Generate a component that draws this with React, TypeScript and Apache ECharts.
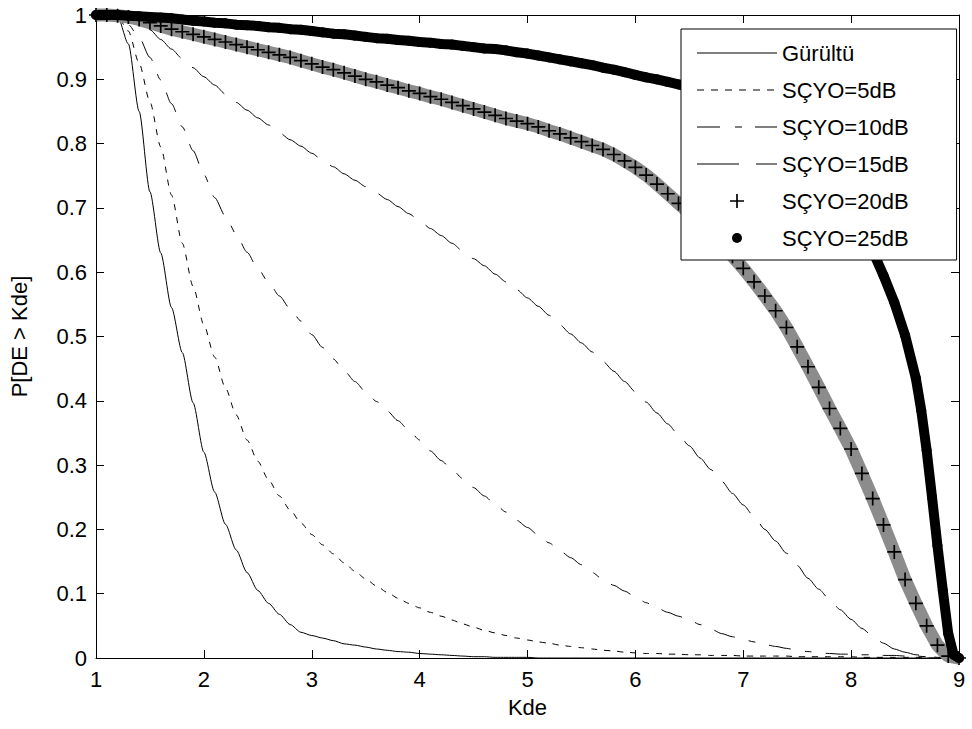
import React, { useEffect, useRef } from "react";
import * as echarts from "echarts";

// Kde grid (x values)
const kde = [
  1.0, 1.1, 1.2, 1.3, 1.4, 1.5, 1.6, 1.7, 1.8, 1.9,
  2.0, 2.1, 2.2, 2.3, 2.4, 2.5, 2.6, 2.7, 2.8, 2.9,
  3.0, 3.1, 3.2, 3.3, 3.4, 3.5, 3.6, 3.7, 3.8, 3.9,
  4.0, 4.1, 4.2, 4.3, 4.4, 4.5, 4.6, 4.7, 4.8, 4.9,
  5.0, 5.1, 5.2, 5.3, 5.4, 5.5, 5.6, 5.7, 5.8, 5.9,
  6.0, 6.1, 6.2, 6.3, 6.4, 6.5, 6.6, 6.7, 6.8, 6.9,
  7.0, 7.1, 7.2, 7.3, 7.4, 7.5, 7.6, 7.7, 7.8, 7.9,
  8.0, 8.1, 8.2, 8.3, 8.4, 8.5, 8.6, 8.7, 8.8, 8.9,
  9.0,
];

// finer grid used for the 25 dB curve (steep end near Kde = 9)
const kde25 = [
  1.0, 1.1, 1.2, 1.3, 1.4, 1.5, 1.6, 1.7, 1.8, 1.9,
  2.0, 2.1, 2.2, 2.3, 2.4, 2.5, 2.6, 2.7, 2.8, 2.9,
  3.0, 3.1, 3.2, 3.3, 3.4, 3.5, 3.6, 3.7, 3.8, 3.9,
  4.0, 4.1, 4.2, 4.3, 4.4, 4.5, 4.6, 4.7, 4.8, 4.9,
  5.0, 5.1, 5.2, 5.3, 5.4, 5.5, 5.6, 5.7, 5.8, 5.9,
  6.0, 6.1, 6.2, 6.3, 6.4, 6.5, 6.6, 6.7, 6.8, 6.9,
  7.0, 7.1, 7.2, 7.3, 7.4, 7.5, 7.6, 7.7, 7.8, 7.9,
  8.0, 8.1, 8.2, 8.3, 8.4, 8.5, 8.6, 8.65, 8.7, 8.75,
  8.8, 8.85, 8.9, 8.95, 9.0,
];

const seriesNames = ["Gürültü", "SÇYO=5dB", "SÇYO=10dB", "SÇYO=15dB", "SÇYO=20dB", "SÇYO=25dB"];

const noise = [
  1, 1, 0.998, 0.955, 0.85, 0.725, 0.63, 0.545, 0.475, 0.397,
  0.32, 0.258, 0.208, 0.168, 0.133, 0.105, 0.085, 0.068, 0.052, 0.04,
  0.035, 0.031, 0.027, 0.022, 0.02, 0.017, 0.014, 0.012, 0.01, 0.009,
  0.007, 0.006, 0.005, 0.004, 0.003, 0.002, 0.002, 0.001, 0.001, 0.001,
  0.001, 0, 0, 0, 0, 0, 0, 0, 0, 0,
  0, 0, 0, 0, 0, 0, 0, 0, 0, 0,
  0, 0, 0, 0, 0, 0, 0, 0, 0, 0,
  0, 0, 0, 0, 0, 0, 0, 0, 0, 0,
  0,
];

const snr5 = [
  1, 1, 0.998, 0.975, 0.925, 0.865, 0.795, 0.72, 0.645, 0.578,
  0.518, 0.468, 0.42, 0.378, 0.339, 0.306, 0.277, 0.252, 0.23, 0.21,
  0.192, 0.176, 0.162, 0.148, 0.135, 0.123, 0.112, 0.102, 0.093, 0.085,
  0.078, 0.071, 0.065, 0.059, 0.053, 0.048, 0.043, 0.039, 0.035, 0.031,
  0.028, 0.025, 0.023, 0.02, 0.018, 0.016, 0.014, 0.012, 0.011, 0.009,
  0.008, 0.007, 0.007, 0.006, 0.006, 0.005, 0.005, 0.004, 0.004, 0.004,
  0.003, 0.003, 0.003, 0.003, 0.003, 0.002, 0.002, 0.002, 0.002, 0.002,
  0.002, 0.001, 0.001, 0.001, 0.001, 0.001, 0.001, 0, 0, 0,
  0,
];

const snr10 = [
  1, 1, 0.995, 0.985, 0.965, 0.934, 0.899, 0.862, 0.826, 0.789,
  0.752, 0.716, 0.687, 0.659, 0.631, 0.606, 0.584, 0.563, 0.543, 0.524,
  0.503, 0.483, 0.465, 0.447, 0.43, 0.414, 0.399, 0.384, 0.369, 0.354,
  0.339, 0.322, 0.307, 0.293, 0.279, 0.265, 0.252, 0.239, 0.227, 0.214,
  0.203, 0.191, 0.179, 0.167, 0.156, 0.145, 0.133, 0.122, 0.113, 0.104,
  0.095, 0.086, 0.078, 0.071, 0.065, 0.059, 0.052, 0.045, 0.038, 0.033,
  0.029, 0.025, 0.021, 0.018, 0.015, 0.012, 0.01, 0.008, 0.007, 0.006,
  0.006, 0.005, 0.005, 0.004, 0.004, 0.003, 0.003, 0.002, 0.001, 0,
  0,
];

const snr15 = [
  1, 1, 0.998, 0.993, 0.986, 0.977, 0.962, 0.947, 0.932, 0.918,
  0.904, 0.891, 0.877, 0.864, 0.852, 0.84, 0.829, 0.817, 0.806, 0.796,
  0.785, 0.774, 0.764, 0.753, 0.743, 0.733, 0.723, 0.713, 0.702, 0.691,
  0.68, 0.668, 0.657, 0.645, 0.633, 0.621, 0.61, 0.597, 0.585, 0.573,
  0.56, 0.547, 0.533, 0.518, 0.504, 0.49, 0.476, 0.461, 0.446, 0.43,
  0.414, 0.398, 0.381, 0.364, 0.347, 0.33, 0.311, 0.293, 0.275, 0.256,
  0.238, 0.22, 0.2, 0.182, 0.163, 0.144, 0.124, 0.107, 0.091, 0.075,
  0.06, 0.046, 0.034, 0.023, 0.014, 0.009, 0.005, 0.003, 0.001, 0,
  0,
];

const snr20 = [
  1, 1, 0.999, 0.997, 0.993, 0.988, 0.983, 0.978, 0.974, 0.97,
  0.966, 0.962, 0.958, 0.954, 0.95, 0.946, 0.942, 0.938, 0.934, 0.929,
  0.924, 0.919, 0.915, 0.91, 0.905, 0.9, 0.896, 0.891, 0.887, 0.882,
  0.878, 0.873, 0.869, 0.864, 0.859, 0.854, 0.849, 0.844, 0.839, 0.835,
  0.831, 0.826, 0.82, 0.815, 0.809, 0.803, 0.797, 0.791, 0.783, 0.773,
  0.763, 0.751, 0.737, 0.722, 0.707, 0.692, 0.677, 0.66, 0.643, 0.625,
  0.606, 0.585, 0.563, 0.54, 0.514, 0.484, 0.453, 0.421, 0.388, 0.357,
  0.325, 0.287, 0.248, 0.207, 0.165, 0.122, 0.085, 0.05, 0.02, 0.003,
  0,
];

const snr25 = [
  1, 1, 1, 0.999, 0.998, 0.997, 0.996, 0.995, 0.993, 0.991,
  0.99, 0.988, 0.987, 0.985, 0.984, 0.983, 0.981, 0.98, 0.978, 0.977,
  0.975, 0.973, 0.971, 0.97, 0.968, 0.966, 0.964, 0.963, 0.961, 0.96,
  0.958, 0.957, 0.955, 0.954, 0.952, 0.95, 0.948, 0.947, 0.945, 0.942,
  0.94, 0.937, 0.934, 0.931, 0.928, 0.925, 0.922, 0.918, 0.915, 0.911,
  0.907, 0.903, 0.9, 0.896, 0.892, 0.888, 0.882, 0.875, 0.867, 0.858,
  0.848, 0.838, 0.827, 0.815, 0.802, 0.788, 0.773, 0.756, 0.737, 0.716,
  0.693, 0.666, 0.633, 0.595, 0.553, 0.502, 0.435, 0.385, 0.323, 0.25,
  0.175, 0.105, 0.038, 0.005, 0,
];

const yTicks = [0, 0.1, 0.2, 0.3, 0.4, 0.5, 0.6, 0.7, 0.8, 0.9, 1];

const FONT = "'Liberation Sans', Arial, Helvetica, sans-serif";
const PLUS = "path://M4.4,0H5.6V4.4H10V5.6H5.6V10H4.4V5.6H0V4.4H4.4Z";
const DOT_ICON = "path://M0,0L0,0M14,14L14,14M12,7A5,5,0,1,1,2,7A5,5,0,1,1,12,7Z";

const zip = (xs: number[], ys: number[]) => xs.map((x, i) => [x, ys[i]]);

export default function App() {
  const ref = useRef<HTMLDivElement>(null);

  useEffect(() => {
    if (!ref.current) return;
    const chart = echarts.init(ref.current, null, { renderer: "svg" });

    const axisCommon = {
      axisLine: { show: true, onZero: false, lineStyle: { color: "#000", width: 1 } },
      axisTick: { show: true, inside: true, length: 8, lineStyle: { color: "#000", width: 1 } },
      splitLine: { show: false },
    };

    const thin = (name: string, ys: number[], dash: any) => ({
      name,
      type: "line",
      data: zip(kde, ys),
      symbol: "none",
      smooth: 0.25,
      smoothMonotone: "x",
      color: "#000",
      lineStyle: { color: "#000", width: 1, type: dash },
      z: 2,
    });

    chart.setOption({
      animation: false,
      backgroundColor: "#fff",
      textStyle: { fontFamily: FONT },
      grid: { left: 95, right: 13, top: 15, bottom: 71, containLabel: false },
      xAxis: [
        {
          type: "value",
          min: 1,
          max: 9,
          interval: 1,
          position: "bottom",
          ...axisCommon,
          axisLabel: { color: "#000", fontSize: 22, margin: 10, fontFamily: FONT },
          name: "Kde",
          nameLocation: "middle",
          nameGap: 38,
          nameTextStyle: { color: "#000", fontSize: 22, fontFamily: FONT },
        },
        {
          type: "value",
          min: 1,
          max: 9,
          interval: 1,
          position: "top",
          ...axisCommon,
          axisLabel: { show: false },
        },
      ],
      yAxis: [
        {
          type: "value",
          min: yTicks[0],
          max: yTicks[yTicks.length - 1],
          interval: 0.1,
          position: "left",
          ...axisCommon,
          axisLabel: {
            color: "#000",
            fontSize: 22,
            margin: 9,
            fontFamily: FONT,
            formatter: (v: number) => String(Math.round(v * 10) / 10),
          },
          name: "P[DE > Kde]",
          nameLocation: "middle",
          nameGap: 66,
          nameTextStyle: { color: "#000", fontSize: 22, fontFamily: FONT },
        },
        {
          type: "value",
          min: yTicks[0],
          max: yTicks[yTicks.length - 1],
          interval: 0.1,
          position: "right",
          ...axisCommon,
          axisLabel: { show: false },
        },
      ],
      legend: {
        orient: "vertical",
        left: 681,
        top: 29,
        z: 20,
        zlevel: 0,
        padding: [12, 48, 10, 16],
        itemWidth: 80,
        itemHeight: 14,
        itemGap: 13,
        backgroundColor: "#fff",
        borderColor: "#000",
        borderWidth: 1,
        borderRadius: 0,
        selectedMode: false,
        itemStyle: { color: "#000", borderWidth: 0, borderColor: "transparent" },
        textStyle: { color: "#000", fontSize: 22, lineHeight: 24, fontFamily: FONT },
        data: [
          { name: seriesNames[0], icon: "path://M0,0H80V1H0Z" },
          {
            name: seriesNames[1],
            icon: "path://M0,0H7V1H0Z M14,0H21V1H14Z M28,0H35V1H28Z M42,0H49V1H42Z M56,0H63V1H56Z M70,0H77V1H70Z M80,0L80,0",
          },
          { name: seriesNames[2], icon: "path://M0,0H23V1H0Z M38,0H45V1H38Z M58,0H80V1H58Z" },
          { name: seriesNames[3], icon: "path://M0,0H42V1H0Z M59,0H80V1H59Z" },
          { name: seriesNames[4], icon: PLUS },
          { name: seriesNames[5], icon: DOT_ICON },
        ],
      },
      series: [
        thin(seriesNames[0], noise, "solid"),
        thin(seriesNames[1], snr5, [6, 7]),
        thin(seriesNames[2], snr10, [22, 14, 7, 14]),
        thin(seriesNames[3], snr15, [42, 15]),
        {
          name: seriesNames[4],
          type: "line",
          data: zip(kde, snr20),
          symbol: PLUS,
          symbolSize: 14,
          showSymbol: true,
          showAllSymbol: true,
          clip: false,
          color: "#000",
          itemStyle: { color: "#000" },
          lineStyle: { color: "#8c8c8c", width: 13 },
          z: 3,
        },
        {
          name: seriesNames[5],
          type: "line",
          data: zip(kde25, snr25),
          symbol: "circle",
          symbolSize: 10,
          showSymbol: true,
          showAllSymbol: true,
          clip: false,
          color: "#000",
          itemStyle: { color: "#000" },
          lineStyle: { color: "#000", width: 10, cap: "round", join: "round" },
          z: 4,
        },
      ],
    });

    return () => chart.dispose();
  }, []);

  return (
    <div
      ref={ref}
      style={{ position: "fixed", left: 0, top: 0, width: 972, height: 729, background: "#fff" }}
    />
  );
}
